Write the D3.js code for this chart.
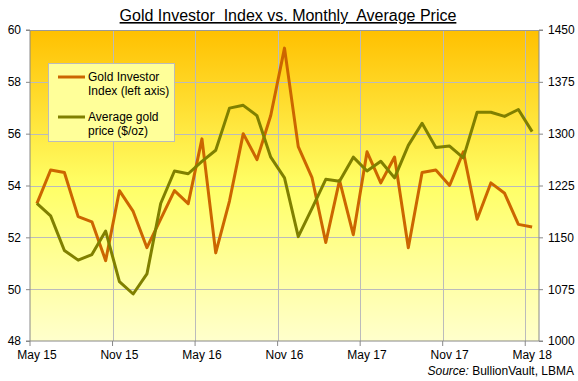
<!DOCTYPE html>
<html>
<head>
<meta charset="utf-8">
<script src="https://cdn.jsdelivr.net/npm/d3@7"></script>
<style>
  body { margin: 0; background: #fff; }
  svg { display: block; font-family: 'Liberation Sans', Arial, sans-serif; }
</style>
</head>
<body>
<svg id="chart" width="578" height="381"></svg>
<script>
// monthly categories, May 2015 .. May 2018
var months = ['May 15','Jun 15','Jul 15','Aug 15','Sep 15','Oct 15','Nov 15','Dec 15',
  'Jan 16','Feb 16','Mar 16','Apr 16','May 16','Jun 16','Jul 16','Aug 16','Sep 16','Oct 16',
  'Nov 16','Dec 16','Jan 17','Feb 17','Mar 17','Apr 17','May 17','Jun 17','Jul 17','Aug 17',
  'Sep 17','Oct 17','Nov 17','Dec 17','Jan 18','Feb 18','Mar 18','Apr 18','May 18'];

var investorIndex = [53.3, 54.6, 54.5, 52.8, 52.6, 51.1, 53.8, 53.0, 51.6, 52.7, 53.8, 53.3,
  55.8, 51.4, 53.4, 56.0, 55.0, 56.7, 59.3, 55.5, 54.3, 51.8, 54.2, 52.1, 55.3, 54.1, 55.1,
  51.6, 54.5, 54.6, 54.0, 55.3, 52.7, 54.1, 53.7, 52.5, 52.4];

var goldPrice = [1199, 1181, 1131, 1117, 1125, 1159, 1086, 1068, 1097, 1199, 1246, 1242,
  1260, 1276, 1337, 1341, 1326, 1266, 1236, 1151, 1192, 1234, 1231, 1266, 1246, 1260, 1236,
  1283, 1315, 1280, 1282, 1265, 1331, 1331, 1325, 1335, 1303];

var leftTicks = [48, 50, 52, 54, 56, 58, 60];
var rightTicks = [1000, 1075, 1150, 1225, 1300, 1375, 1450];
var tickMonths = ['May 15', 'Nov 15', 'May 16', 'Nov 16', 'May 17', 'Nov 17', 'May 18'];

var svg = d3.select('#chart');
var L = 30, R = 539, T = 30, B = 341;

var scX = d3.scaleBand().domain(months).range([L, R]);
var scL = d3.scaleLinear().domain([48, 60]).range([B, T]);
var scR = d3.scaleLinear().domain([1000, 1450]).range([B, T]);
var cx = (d) => scX(d) + scX.bandwidth() / 2;

// background gradient
var grad = svg.append('defs').append('linearGradient')
  .attr('id', 'bg').attr('x1', 0).attr('y1', 0).attr('x2', 0).attr('y2', 1);
grad.append('stop').attr('offset', '0%').attr('stop-color', '#FFC000');
grad.append('stop').attr('offset', '50%').attr('stop-color', '#FFFF66');
grad.append('stop').attr('offset', '100%').attr('stop-color', '#FFFFCC');

svg.append('rect')
  .attr('x', L).attr('y', T).attr('width', R - L).attr('height', B - T)
  .attr('fill', 'url(#bg)');

// grid
var g = svg.append('g');
g.selectAll('line.h')
  .data(leftTicks.slice(1))
  .enter().append('line')
  .attr('class', 'h')
  .attr('x1', L).attr('x2', R)
  .attr('y1', (d) => Math.round(scL(d)) + 0.5).attr('y2', (d) => Math.round(scL(d)) + 0.5)
  .attr('stroke', '#BBBBBB').attr('stroke-width', 1);
g.selectAll('line.v')
  .data(tickMonths.slice(1))
  .enter().append('line')
  .attr('class', 'v')
  .attr('x1', (d) => Math.round(scX(d)) + 0.5).attr('x2', (d) => Math.round(scX(d)) + 0.5)
  .attr('y1', T).attr('y2', B)
  .attr('stroke', '#BBBBBB').attr('stroke-width', 1);

// axes
var axL = d3.axisLeft(scL).tickValues(leftTicks).tickSize(4).tickPadding(5);
var axR = d3.axisRight(scR).tickValues(rightTicks).tickFormat(d3.format('d'))
  .tickSize(4).tickPadding(5);
var axB = d3.axisBottom(scX).tickValues(tickMonths).tickSize(0).tickPadding(9);

function styleAxis(sel) {
  sel.selectAll('path, line').attr('stroke', '#888888');
  sel.selectAll('text').attr('fill', '#000').attr('font-size', '12px')
    .attr('font-family', "'Liberation Sans', Arial, sans-serif");
}
svg.append('g').attr('transform', 'translate(' + L + ',0)').call(axL).call(styleAxis)
  .select('.domain').attr('d', 'M-4,' + T + 'H0V' + B + 'H-4');
svg.append('g').attr('transform', 'translate(' + R + ',0)').call(axR).call(styleAxis)
  .select('.domain').attr('d', 'M4,' + T + 'H0V' + B + 'H4');
var bx = svg.append('g').attr('transform', 'translate(0,' + B + ')').call(axB).call(styleAxis);
bx.select('.domain').attr('d', 'M' + L + ',0H' + R);
bx.selectAll('.tick')
  .append('line')
  .attr('x1', -scX.bandwidth() / 2).attr('x2', -scX.bandwidth() / 2)
  .attr('y1', 0).attr('y2', 5)
  .attr('stroke', '#888888');
svg.append('line').attr('x1', L).attr('x2', R).attr('y1', T + 0.5).attr('y2', T + 0.5)
  .attr('stroke', '#999999');

// lines
var lnL = d3.line().x((d, i) => cx(months[i])).y((d) => scL(d));
var lnR = d3.line().x((d, i) => cx(months[i])).y((d) => scR(d));
svg.append('path').attr('d', lnL(investorIndex))
  .attr('fill', 'none').attr('stroke', '#CC6600').attr('stroke-width', 3)
  .attr('stroke-linejoin', 'round');
svg.append('path').attr('d', lnR(goldPrice))
  .attr('fill', 'none').attr('stroke', '#808000').attr('stroke-width', 3)
  .attr('stroke-linejoin', 'round');

// legend
var lg = svg.append('g');
lg.append('rect').attr('x', 48.5).attr('y', 63.5).attr('width', 126).attr('height', 78)
  .attr('fill', '#FFFF99').attr('stroke', '#BBBBBB');
var legend = [
  { color: '#CC6600', y: 77, lines: ['Gold Investor', 'Index (left axis)'] },
  { color: '#808000', y: 117, lines: ['Average gold', 'price ($/oz)'] },
];
legend.forEach(function (d) {
  lg.append('line').attr('x1', 58).attr('x2', 85).attr('y1', d.y).attr('y2', d.y)
    .attr('stroke', d.color).attr('stroke-width', 3);
  d.lines.forEach(function (t, j) {
    lg.append('text').attr('x', 88).attr('y', d.y + 4 + j * 14)
      .attr('font-size', '12px').attr('fill', '#000').text(t);
  });
});

// title
svg.append('text').attr('x', 288).attr('y', 21).attr('text-anchor', 'middle')
  .attr('font-size', '16px').attr('text-decoration', 'underline')
  .style('white-space', 'pre')
  .text('Gold Investor  Index vs. Monthly  Average Price');

// source
var src = svg.append('text').attr('x', 574).attr('y', 375).attr('text-anchor', 'end')
  .attr('font-size', '12px');
src.append('tspan').attr('font-style', 'italic').text('Source:');
src.append('tspan').text(' BullionVault, LBMA');
</script>
</body>
</html>
